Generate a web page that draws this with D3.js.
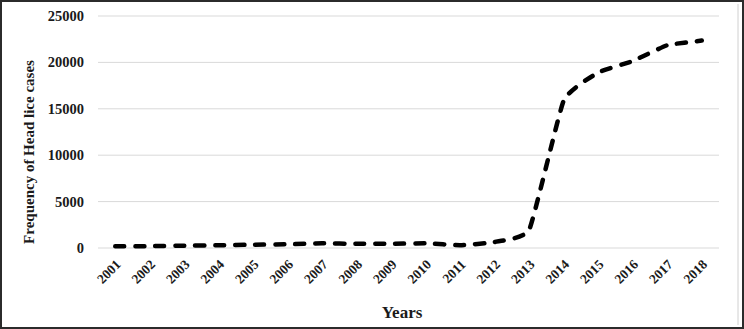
<!DOCTYPE html>
<html>
<head>
<meta charset="utf-8">
<script src="https://cdn.jsdelivr.net/npm/d3@7.9.0/dist/d3.min.js"></script>
<style>
  html, body { margin: 0; padding: 0; background: #fff; }
  svg { display: block; }
  text { font-family: "Liberation Serif", "Times New Roman", serif; font-weight: bold; fill: #1a1a1a; }
</style>
</head>
<body>
<svg id="chart" width="744" height="329"></svg>
<script>
const years = ['2001','2002','2003','2004','2005','2006','2007','2008','2009',
               '2010','2011','2012','2013','2014','2015','2016','2017','2018'];
const cases = [200, 200, 250, 300, 350, 400, 500, 450, 450,
               500, 300, 650, 2000, 15900, 18900, 20150, 21850, 22350];
const yTicks = [0, 5000, 10000, 15000, 20000, 25000];

const svg = d3.select('#chart');
const W = 744, H = 329;
const plotLeft = 98, plotRight = 719, plotTop = 16, plotBottom = 248;

// frame
svg.append('rect').attr('x', 1).attr('y', 1).attr('width', W - 2).attr('height', H - 2)
    .attr('fill', 'none').attr('stroke', '#2b2b2b').attr('stroke-width', 2);
svg.append('line').attr('x1', 738).attr('x2', 738).attr('y1', 4).attr('y2', H - 4)
    .attr('stroke', '#d0d0d0').attr('stroke-width', 1);

let x = d3.scalePoint().domain(years).range([plotLeft, plotRight]).padding(0.5);
let y = d3.scaleLinear().domain([0, 25000]).range([plotBottom, plotTop]);

// gridlines
svg.append('g').selectAll('line').data(yTicks).join('line')
    .attr('x1', plotLeft).attr('x2', plotRight)
    .attr('y1', d => y(d)).attr('y2', d => y(d))
    .attr('stroke', '#d9d9d9').attr('stroke-width', 1);

// y tick labels
svg.append('g').selectAll('text').data(yTicks).join('text')
    .attr('x', 84).attr('y', d => y(d)).attr('dy', '0.35em')
    .attr('text-anchor', 'end').attr('font-size', 14.5)
    .text(d => d);

// x tick labels, rotated
svg.append('g').selectAll('text').data(years).join('text')
    .attr('transform', d => `translate(${x(d) + 3},${plotBottom + 14}) rotate(-45)`)
    .attr('text-anchor', 'end').attr('dy', '0.35em').attr('font-size', 13.5)
    .text(d => d);

// line
let line = d3.line()
    .x((d, i) => x(years[i]))
    .y(d => y(d))
    .curve(d3.curveCardinal.tension(0.6));

svg.append('path')
    .attr('d', line(cases))
    .attr('fill', 'none')
    .attr('stroke', '#000')
    .attr('stroke-width', 4.5)
    .attr('stroke-linecap', 'round')
    .attr('stroke-dasharray', '9,11');

// axis titles
svg.append('text')
    .attr('transform', 'translate(34,152) rotate(-90)')
    .attr('text-anchor', 'middle').attr('font-size', 15)
    .text('Frequency of Head lice cases');

svg.append('text')
    .attr('x', 402).attr('y', 318)
    .attr('text-anchor', 'middle').attr('font-size', 17)
    .text('Years');
</script>
</body>
</html>
